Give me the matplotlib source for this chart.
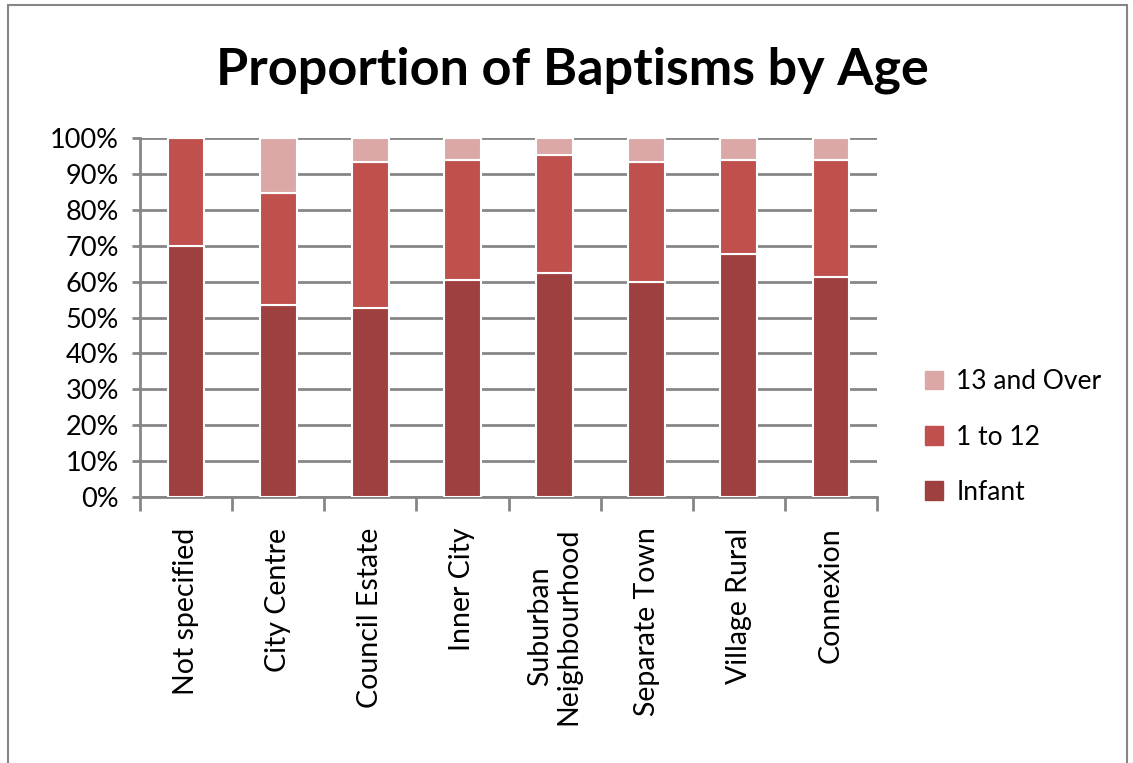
import matplotlib
matplotlib.use("Agg")
import matplotlib.pyplot as plt
from matplotlib.patches import Rectangle, Patch
import numpy as np

categories = ["Not specified", "City Centre", "Council Estate", "Inner City",
              "Suburban\nNeighbourhood", "Separate Town", "Village Rural", "Connexion"]
infant = [69.9, 53.4, 52.6, 60.4, 62.4, 59.9, 67.7, 61.3]
one_to_12 = [30.1, 31.3, 40.7, 33.5, 32.9, 33.4, 26.2, 32.6]
thirteen_over = [0.0, 15.3, 6.7, 6.1, 4.7, 6.7, 6.1, 6.1]
yticks = [0, 10, 20, 30, 40, 50, 60, 70, 80, 90, 100]
ytick_labels = [f"{v}%" for v in yticks]

plt.rcParams['font.family'] = ['Lato', 'DejaVu Sans']

fig = plt.figure(figsize=(11.33, 7.63), dpi=100)
ax = fig.add_axes([140/1133, 1-497/763, (877-140)/1133, (497-138)/763])

x = np.arange(len(categories))
w = 0.4
c_inf, c_mid, c_old = '#9E403F', '#C0504D', '#DBA8A7'
ax.bar(x, infant, w, color=c_inf, edgecolor='white', linewidth=1.5, zorder=3)
ax.bar(x, one_to_12, w, bottom=infant, color=c_mid, edgecolor='white', linewidth=1.5, zorder=3)
bot3 = [a + b for a, b in zip(infant, one_to_12)]
ax.bar(x, thirteen_over, w, bottom=bot3, color=c_old, edgecolor='white', linewidth=1.5, zorder=3)

ax.set_xlim(-0.5, len(categories) - 0.5)
ax.set_ylim(0, 100)
ax.set_yticks(yticks)
ax.set_yticklabels(ytick_labels, fontsize=19.5)
ax.yaxis.grid(True, color='#868686', linewidth=2, zorder=0)
ax.set_axisbelow(True)
for s in ['top', 'right']:
    ax.spines[s].set_visible(False)
for s in ['left', 'bottom']:
    ax.spines[s].set_color('#868686')
    ax.spines[s].set_linewidth(2)
ax.tick_params(axis='y', length=6, width=2, color='#868686', pad=9)

ax.set_xticks(x)
ax.set_xticklabels(categories, rotation=90, fontsize=20.5, va='top', ha='center', linespacing=1.1)
ax.tick_params(axis='x', length=0, pad=22)
ax.set_xticks(np.arange(-0.5, len(categories)), minor=True)
ax.tick_params(axis='x', which='minor', length=10, width=2, color='#868686')

fig.text(0.5 * (215 + 930) / 1133, 1 - 70/763, "Proportion of Baptisms by Age",
         fontsize=37.5, fontweight='bold', ha='center', va='center')

handles = [Patch(color=c_old), Patch(color=c_mid), Patch(color=c_inf)]
labels = ["13 and Over", "1 to 12", "Infant"]
fig.legend(handles, labels, loc='center left', bbox_to_anchor=(901/1133, 1 - 437/763),
           frameon=False, fontsize=19, handlelength=0.7, handleheight=0.7,
           labelspacing=1.15, handletextpad=0.5)

fig.patches.append(Rectangle((8/1133, -0.1), (1127-8)/1133, 1.1 - 5/763, transform=fig.transFigure,
                             fill=False, edgecolor='#868686', linewidth=1.5))

fig.savefig("out.png", dpi=100)
